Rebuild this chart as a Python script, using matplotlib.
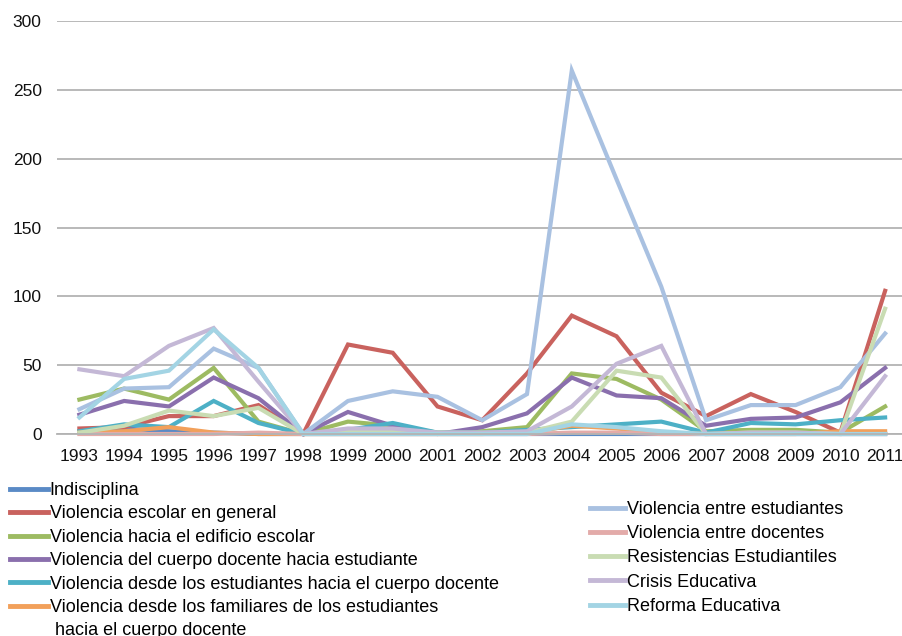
import matplotlib
matplotlib.use("Agg")
import matplotlib.pyplot as plt
from matplotlib.lines import Line2D

plt.rcParams['font.family'] = ['Liberation Sans', 'DejaVu Sans']

years = list(range(1993, 2012))

series_names = [
    "Indisciplina",
    "Violencia escolar en general",
    "Violencia hacia el edificio escolar",
    "Violencia del cuerpo docente hacia estudiante",
    "Violencia desde los estudiantes hacia el cuerpo docente",
    "Violencia desde los familiares de los estudiantes",
    "Violencia entre estudiantes",
    "Violencia entre docentes",
    "Resistencias Estudiantiles",
    "Crisis Educativa",
    "Reforma Educativa",
]
label_continuation = " hacia el cuerpo docente"

indisciplina = [2, 4, 2, 1, 0, 0, 0, 0, 0, 0, 0, 0, 0, 0, 0, 0, 0, 0, 0]
escolar_general = [4, 5, 13, 13, 21, 0, 65, 59, 20, 10, 44, 86, 71, 30, 13, 29, 16, 1, 104]
edificio = [25, 33, 25, 48, 9, 0, 9, 6, 1, 2, 5, 44, 40, 25, 2, 3, 3, 1, 20]
docente_estudiante = [14, 24, 20, 41, 26, 0, 16, 6, 0, 5, 15, 41, 28, 26, 6, 11, 12, 23, 48]
estudiantes_docente = [2, 7, 5, 24, 8, 0, 3, 8, 1, 1, 3, 5, 7, 9, 1, 8, 7, 10, 12]
familiares_docente = [1, 2, 5, 1, 0, 0, 0, 0, 0, 0, 1, 6, 4, 1, 0, 0, 0, 2, 2]
entre_estudiantes = [18, 33, 34, 62, 48, 0, 24, 31, 27, 10, 29, 264, 185, 107, 10, 21, 21, 34, 73]
entre_docentes = [0, 0, 0, 0, 1, 0, 0, 0, 0, 0, 0, 1, 1, 0, 0, 0, 0, 0, 0]
resistencias = [1, 6, 17, 13, 19, 0, 2, 2, 1, 1, 1, 9, 46, 41, 0, 1, 1, 0, 91]
crisis = [47, 42, 64, 77, 38, 0, 4, 4, 1, 1, 2, 20, 51, 64, 0, 1, 1, 0, 42]
reforma = [12, 40, 46, 76, 48, 0, 0, 0, 0, 0, 0, 7, 5, 2, 0, 0, 0, 0, 0]

values = [indisciplina, escolar_general, edificio, docente_estudiante,
          estudiantes_docente, familiares_docente, entre_estudiantes,
          entre_docentes, resistencias, crisis, reforma]

colors = ["#5A8AC6", "#C9625E", "#9DBB62", "#8A6FAD", "#4DB0C6", "#F2A05A",
          "#A9C1E1", "#E3ABA9", "#C9DCB3", "#C4B8D6", "#A3D4E4"]

yticks = [0, 50, 100, 150, 200, 250, 300]

fig = plt.figure(figsize=(9.03, 6.36), dpi=100)
W, H = 903, 636
ax = fig.add_axes([57 / W, 1 - 434 / H, 850.5 / W, 413 / H])

for vals, c in zip(values, colors):
    ax.plot(years, vals, color=c, lw=3, solid_joinstyle='miter', clip_on=False)

ax.set_xlim(1992.5, 2011.5)
ax.set_ylim(0, 300)
ax.set_yticks(yticks)
ax.set_xticks(years)
ax.set_xticklabels([str(y) for y in years])
ax.yaxis.grid(True, color="#B3B3B3", lw=1.3)
ax.set_axisbelow(True)
for s in ["top", "right", "left"]:
    ax.spines[s].set_visible(False)
ax.spines["bottom"].set_color("#B3B3B3")
ax.spines["bottom"].set_linewidth(1.3)
ax.tick_params(axis='both', length=0, labelsize=12.5, colors="#111111")
ax.tick_params(axis='x', pad=11)
ax.tick_params(axis='y', pad=11)

FS = 13
handles = [Line2D([0], [0], color=c, lw=3.5) for c in colors]
blank = Line2D([0], [0], color='none', lw=0)
leg1 = fig.legend(handles[:6] + [blank], series_names[:6] + [label_continuation],
                  loc='upper left',
                  bbox_to_anchor=(10 / W, 1 - 482 / H), frameon=False,
                  fontsize=FS, handlelength=2.1, handletextpad=0.1,
                  labelspacing=0.355, borderaxespad=0, borderpad=0)
leg2 = fig.legend(handles[6:], series_names[6:], loc='upper left',
                  bbox_to_anchor=(590 / W, 1 - 501 / H), frameon=False,
                  fontsize=FS, handlelength=1.95, handletextpad=0.1,
                  labelspacing=0.4, borderaxespad=0, borderpad=0)

fig.savefig("out.png", dpi=100)
